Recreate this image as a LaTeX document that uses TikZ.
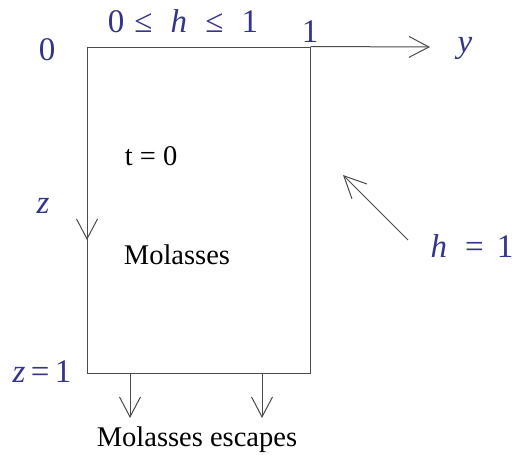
\documentclass[tikz,border=0pt]{standalone}
\usepackage{fontspec}
\setmainfont{Liberation Serif}
\usetikzlibrary{arrows.meta,positioning}
\definecolor{labelblue}{RGB}{52,52,138}
\definecolor{edgegrey}{RGB}{75,75,75}
\tikzset{
  lbl/.style={font=\fontsize{33}{35}\selectfont, text=labelblue, inner sep=0pt},
  txt/.style={font=\fontsize{28.5}{31}\selectfont, text=black, inner sep=0pt},
  tank/.style={rectangle, draw=edgegrey, line width=1pt, minimum width=223pt, minimum height=326pt, inner sep=0pt},
  arr/.style={-{Straight Barb[length=20pt,width=21pt,line width=1pt]}, line width=1pt, draw=edgegrey},
}
\begin{document}
\begin{tikzpicture}[x=1pt,y=-1pt]
  \useasboundingbox (0,0) rectangle (515,458);
  % the container
  \node[tank] (box) at (198.5,210) {};
  \coordinate (yend) at (430,47);
  \coordinate (zmid) at (87,240);
  \coordinate (zstart) at (87,200);
  \draw[arr] (box.north east) -- (yend);
  \draw[arr,shorten <=0pt] (zstart) -- (zmid);
  % outflow at the bottom
  \coordinate (outA) at (130,373);
  \coordinate (outB) at (262,373);
  \coordinate (outAend) at (130,418);
  \coordinate (outBend) at (262,418);
  \draw[arr] (outA) -- (outAend);
  \draw[arr] (outB) -- (outBend);
  % axis labels
  \node[lbl] (origin) at (47,50) {0};
  \node[lbl] (range) at (183,21) {0\hspace{0.3em}≤\hspace{0.55em}\textit{h}\hspace{0.55em}≤\hspace{0.55em}1};
  \node[lbl] (one) at (310,32) {1};
  \node[lbl] (ylab) at (465,48) {\textit{y}};
  \node[lbl] (zlab) at (43,206) {\textit{z}};
  \node[lbl] (zone) at (42,372) {\textit{z}\,=\,1};
  \node[lbl] (hone) at (472,246) {\textit{h}\hspace{0.55em}=\hspace{0.4em}1};
  \coordinate (hfrom) at (408,240);
  \coordinate (hto) at (343,175);
  \draw[arr,-{Straight Barb[length=22pt,width=21pt,line width=1pt]}] (hfrom) -- (hto);
  % texts inside
  \node[txt] (time) at (151,156) {t = 0};
  \node[txt] (fluid) at (177,255) {Molasses};
  \node[txt] (escape) at (197,440) {Molasses escapes};
\end{tikzpicture}
\end{document}
